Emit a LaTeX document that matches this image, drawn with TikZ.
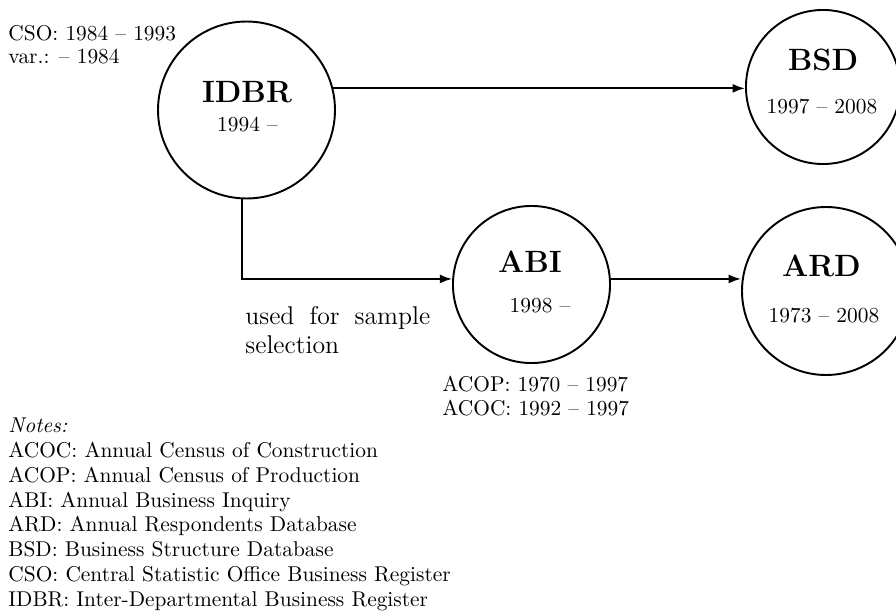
\documentclass[tikz,border=0pt]{standalone}
\usetikzlibrary{arrows.meta}
\begin{document}
\begin{tikzpicture}[x=0.4673pt,y=-0.4673pt,
  circ/.style={circle,draw,line width=0.9pt,inner sep=0pt},
  conn/.style={line width=0.9pt,-{Latex[length=5.8pt,width=4.2pt]}},
  title/.style={font=\Large\bfseries,inner sep=0pt,anchor=base},
  years/.style={inner sep=0pt,anchor=base},
  txt/.style={inner sep=0pt,anchor=base west,align=left,font=\fontsize{10}{11.2}\selectfont}]
\useasboundingbox (0,0) rectangle (896,614);
% circles
\node[circ,minimum size=82.7pt] (idbr) at (246.5,110) {};
\node[circ,minimum size=72.0pt] (bsd) at (823,87) {};
\node[circ,minimum size=73.4pt] (abi) at (531.5,284.5) {};
\node[circ,minimum size=78.5pt] (ard) at (826,291) {};
% labels inside circles
\node[title] (idbrT) at (247,103) {IDBR};
\node[years] (idbrY) at (247.5,132) {1994 --};
\node[title] (bsdT) at (823,71) {BSD};
\node[years] (bsdY) at (822,114) {1997 -- 2008};
\node[title] (abiT) at (530,273) {ABI};
\node[years] (abiY) at (540,313) {1998 --};
\node[title] (ardT) at (821.5,277) {ARD};
\node[years] (ardY) at (824,323) {1973 -- 2008};
% connectors
\draw[conn] (idbr.14) -- (bsd.west |- idbr.14);
\draw[conn] (idbr.267) |- (abi.176);
\draw[conn] (abi.4) -- (ard.west |- abi.4);
% side texts (anchored at the baseline of the last line)
\node[txt] (cso) at (8,64) {CSO: 1984 -- 1993\\var.: -- 1984};
\node[txt] (acop) at (442,415) {ACOP: 1970 -- 1997\\ACOC: 1992 -- 1997};
\node[inner sep=0pt,anchor=base west,text width=86.4pt,align=justify,font=\fontsize{12}{14}\selectfont] (used) at (245,324) {used for sample\linebreak selection};
\node[txt,font=\fontsize{10}{11.55}\selectfont] (notes) at (8,606) {\textit{Notes:}\\
ACOC: Annual Census of Construction\\
ACOP: Annual Census of Production\\
ABI: Annual Business Inquiry\\
ARD: Annual Respondents Database\\
BSD: Business Structure Database\\
CSO: Central Statistic Office Business Register\\
IDBR: Inter-Departmental Business Register};
\end{tikzpicture}
\end{document}
